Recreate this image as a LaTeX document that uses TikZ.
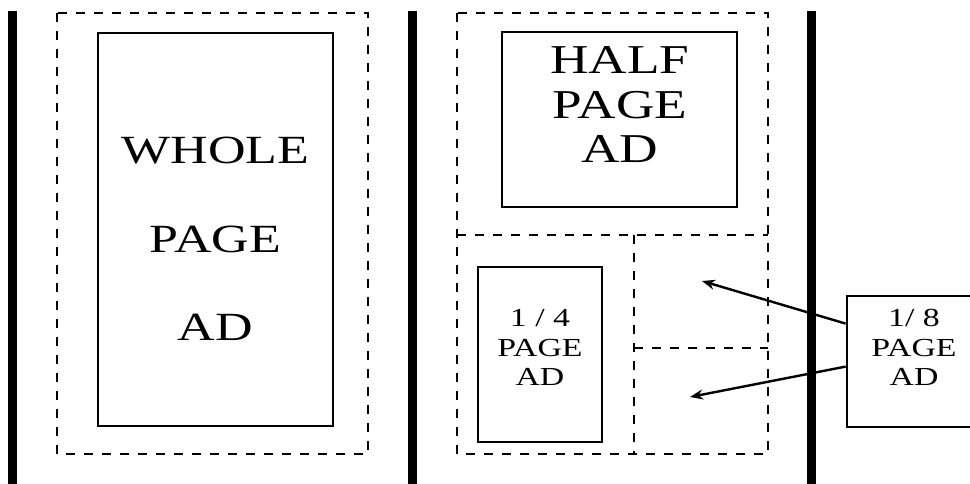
\documentclass[tikz,border=0pt]{standalone}
\usepackage{graphicx}
\usepackage{fontspec}
\setmainfont{Liberation Serif}
\usepackage{tikz}
\usetikzlibrary{
	arrows.meta,
	calc,
	positioning
}
% the letters in the layout are drawn a little wide
\newcommand\WideText[1]{\scalebox{1.3}[1]{#1}}
\tikzstyle{every picture}+=[>={Stealth[length=13pt,width=10pt]}]

\begin{document}
\begin{tikzpicture}[x=1pt, y=-1pt]

	\useasboundingbox (0,0) rectangle (970,484);
	\clip (0,0) rectangle (970,484);

	\begin{scope}[
			bar/.style={line width=9pt},
			pageline/.style={line width=2.2pt, dash pattern=on 9pt off 9pt},
			adbox/.style={draw, line width=2.8pt, inner sep=0pt},
			biglabel/.style={inner sep=0pt, anchor=base, font=\fontsize{40}{41}\selectfont},
			halflabel/.style={inner sep=0pt, anchor=base, font=\fontsize{41}{42}\selectfont},
			smalllabel/.style={inner sep=0pt, anchor=base, font=\fontsize{26}{27}\selectfont},
			adarrow/.style={->, line width=2.4pt}
			]

		% gutters between the pages
		\foreach \x in {12.8, 412.8, 811.5} {
			\draw[bar] (\x,11) -- (\x,484);
		}

		% page margins
		\draw[pageline] (57,13) rectangle (368,454);
		\draw[pageline] (457,13) rectangle (768,454);
		\draw[pageline] (457,235) -- (768,235);
		\draw[pageline] (634,235) -- (634,454);
		\draw[pageline] (634,348) -- (768,348);

		% the ads
		\node[adbox, minimum width=235pt, minimum height=393pt] (whole) at (215.5,229.5) {};
		\node[adbox, minimum width=235pt, minimum height=175pt] (half) at (619.5,119.5) {};
		\node[adbox, minimum width=124pt, minimum height=175pt] (quarter) at (540,354.5) {};
		\node[adbox, minimum width=136pt, minimum height=131pt] (eighth) at (915,361.5) {};

		\foreach \txt/\y [count=\k] in {WHOLE/164, PAGE/252, AD/340} {
			\node[biglabel] (whole\k) at (215.5,\y) {\WideText{\txt}};
		}
		\foreach \txt/\y [count=\k] in {HALF/74, PAGE/118.3, AD/162.7} {
			\node[halflabel] (half\k) at (620,\y) {\WideText{\txt}};
		}
		\foreach \txt/\y [count=\k] in {{1 / 4}/326.7, PAGE/356.5, AD/385} {
			\node[smalllabel] (quarter\k) at (540,\y) {\WideText{\txt}};
		}
		\foreach \txt/\y [count=\k] in {{1/ 8}/326.7, PAGE/356.5, AD/385} {
			\node[smalllabel] (eighth\k) at (914,\y) {\WideText{\txt}};
		}

		% where the 1/8 ads go
		\coordinate (slotA) at (702,281);
		\coordinate (slotB) at (690,397);
		\draw[adarrow] ([yshift=-29pt]eighth.north west) -- (slotA);
		\draw[adarrow] ([yshift=-72pt]eighth.north west) -- (slotB);

	\end{scope}

\end{tikzpicture}
\end{document}
